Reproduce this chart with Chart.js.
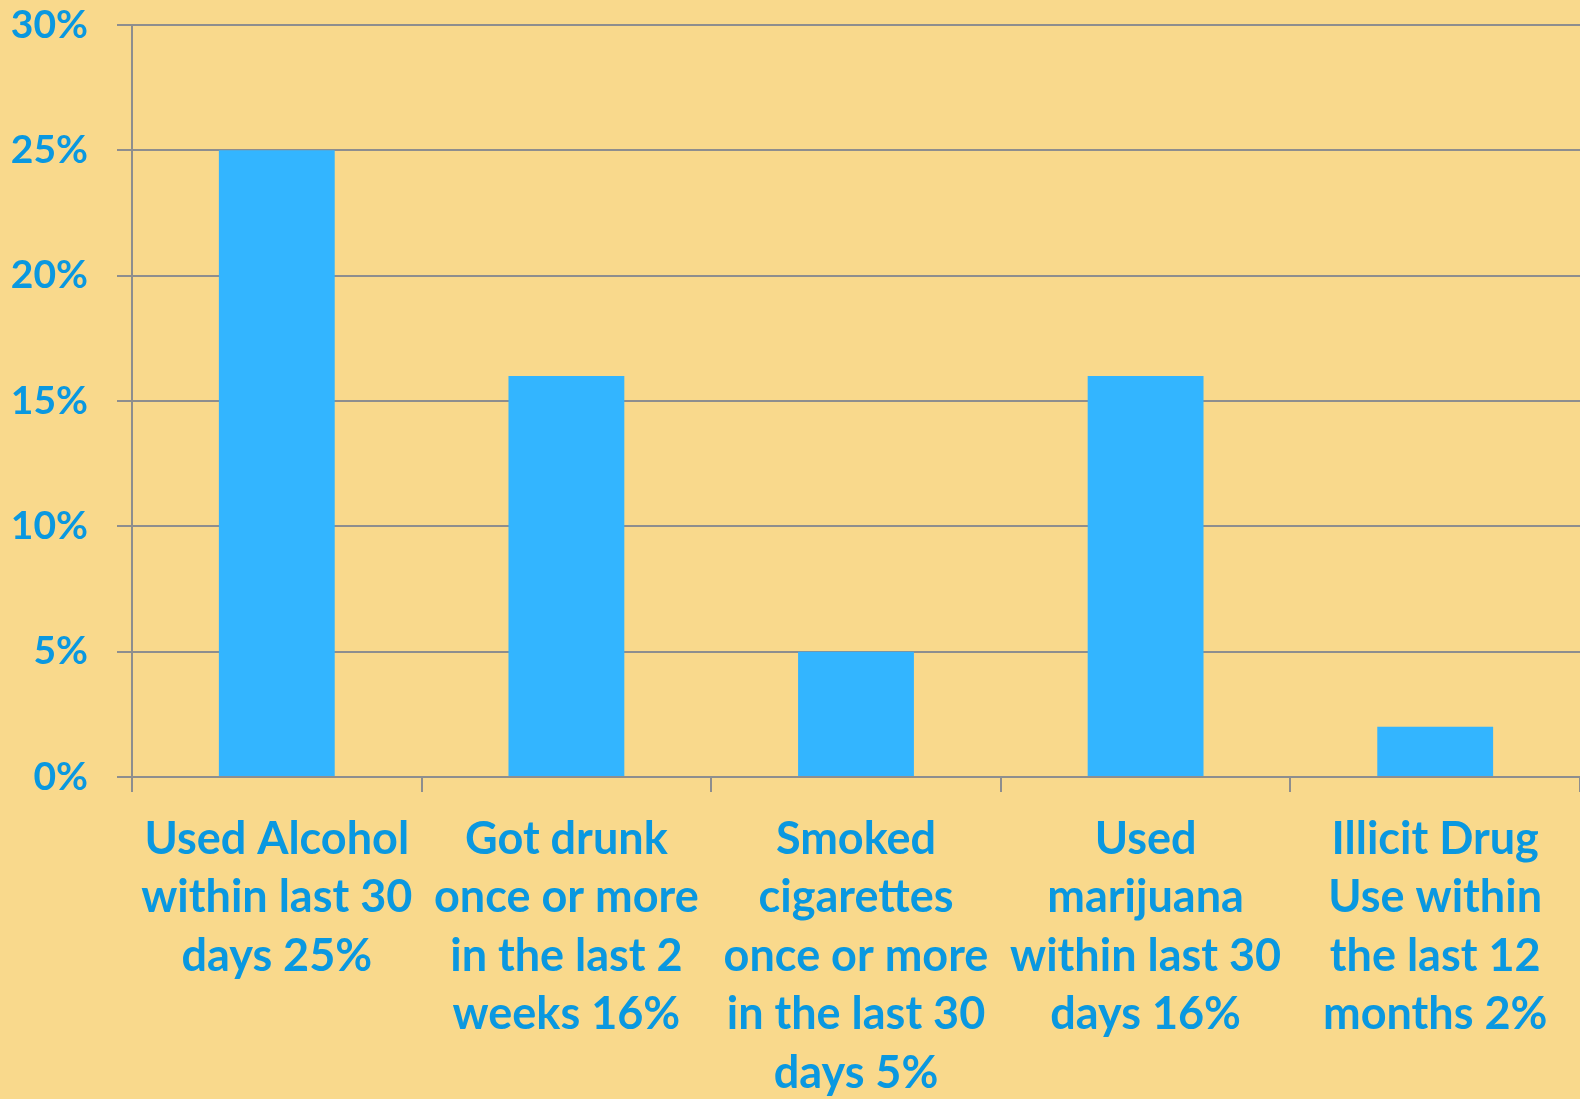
<!DOCTYPE html>
<html>
<head>
<meta charset="utf-8">
<script src="https://cdn.jsdelivr.net/npm/chart.js@4/dist/chart.umd.min.js"></script>
<style>
    html, body { margin: 0; padding: 0; background: #f9d98c; }
    #wrap { width: 1580px; height: 1099px; position: relative; }
</style>
</head>
<body>
<div id="wrap"><canvas id="usageChart"></canvas></div>
<script>
// Survey results: share of students reporting each behaviour
const categoryLabels = [
    ['Used Alcohol', 'within last 30', 'days 25%'],
    ['Got drunk', 'once or more', 'in the last 2', 'weeks 16%'],
    ['Smoked', 'cigarettes', 'once or more', 'in the last 30', 'days 5%'],
    ['Used', 'marijuana', 'within last 30', 'days 16%'],
    ['Illicit Drug', 'Use within', 'the last 12', 'months 2%'],
];
const percentValues = [25, 16, 5, 16, 2];
const yTicks = [0, 5, 10, 15, 20, 25, 30];

const LABEL_BLUE = '#0a98e0';
const BAR_BLUE = '#33b5ff';
const GRID_GREY = '#8e8e8e';

const ctx = document.getElementById('usageChart').getContext('2d');

new Chart(ctx, {
    type: 'bar',
    data: {
        labels: categoryLabels,
        datasets: [
            {
                data: percentValues,
                backgroundColor: BAR_BLUE,
                borderWidth: 0,
                barPercentage: 0.4,
                categoryPercentage: 1,
            },
        ],
    },
    options: {
        responsive: true,
        maintainAspectRatio: false,
        animation: false,
        layout: {
            // plot runs a few pixels past the right edge of the canvas
            padding: { top: 25, right: -5, left: 0, bottom: 0 },
        },
        plugins: {
            legend: { display: false },
            tooltip: { enabled: false },
        },
        scales: {
            x: {
                afterFit: (axis) => {
                    axis.height = 322;
                },
                grid: {
                    offset: true,
                    drawOnChartArea: false,
                    drawTicks: true,
                    tickLength: 15,
                    color: GRID_GREY,
                    lineWidth: 2,
                },
                border: { color: GRID_GREY, width: 2 },
                ticks: {
                    color: LABEL_BLUE,
                    maxRotation: 0,
                    autoSkip: false,
                    padding: 18,
                    font: { family: 'Lato', weight: 'bold', size: 45, lineHeight: 1.3 },
                },
            },
            y: {
                min: 0,
                max: 30,
                afterBuildTicks: (axis) => {
                    axis.ticks = yTicks.map((v) => ({ value: v }));
                },
                afterFit: (axis) => {
                    // fixed gutter; let the top label sit above the plot edge
                    axis.width = 132;
                    axis.paddingTop = 0;
                    axis.paddingBottom = 0;
                },
                grid: {
                    color: GRID_GREY,
                    lineWidth: 2,
                    drawTicks: true,
                    tickLength: 15,
                },
                border: { color: GRID_GREY, width: 2 },
                ticks: {
                    color: LABEL_BLUE,
                    padding: 29,
                    font: { family: 'Lato', weight: 'bold', size: 39 },
                    callback: (v) => v + '%',
                },
            },
        },
    },
});
</script>
</body>
</html>
